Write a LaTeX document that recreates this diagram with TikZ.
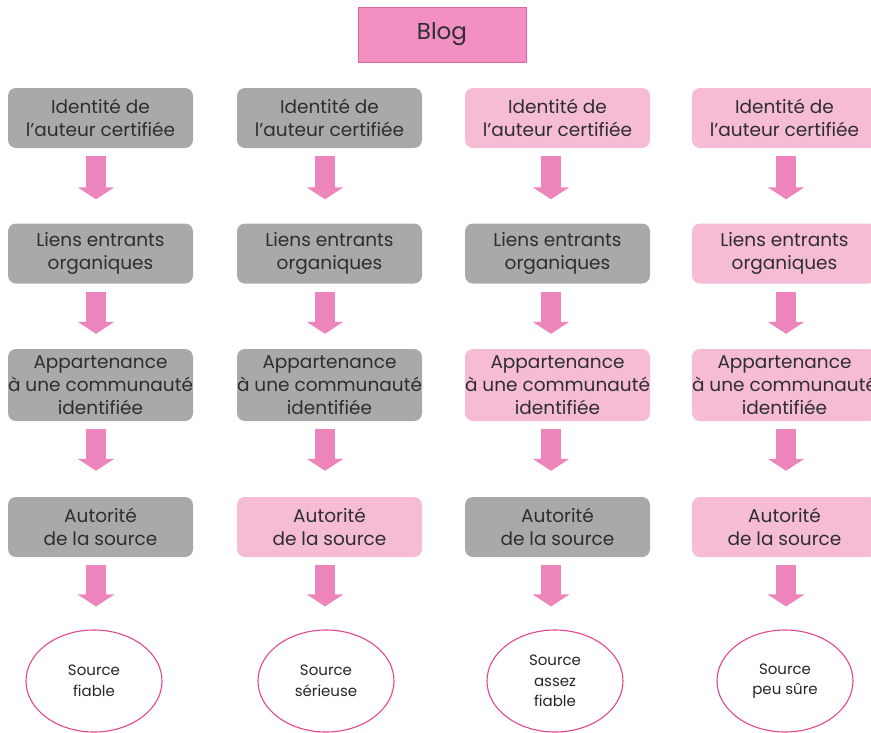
\documentclass[tikz,border=0pt]{standalone}
\usepackage{fontspec}
\setmainfont{Poppins}
\usetikzlibrary{arrows.meta,shapes.geometric}
\definecolor{boxgray}{HTML}{A8AAAA}
\definecolor{boxpink}{HTML}{F6BCD6}
\definecolor{blogpink}{HTML}{F290C4}
\definecolor{blogedge}{HTML}{D8669F}
\definecolor{arrowpink}{HTML}{EE84BC}
\definecolor{elledge}{HTML}{E0478F}
\definecolor{txt}{HTML}{2E2E2E}
\tikzset{
  base/.style={rounded corners=8pt, minimum width=185pt, align=center, text=txt,
    font=\fontsize{18.5}{23}\selectfont, inner sep=0pt},
  graybox/.style={base, fill=boxgray},
  pinkbox/.style={base, fill=boxpink},
  tall/.style={minimum height=72pt},
  short/.style={minimum height=60pt},
  fat/.style={draw=arrowpink, line width=20pt, -{Triangle[width=36pt,length=12pt]}, shorten <=8pt},
  outcome/.style={ellipse, draw=elledge, line width=1.1pt, minimum width=136pt, minimum height=102pt,
    align=center, inner sep=0pt, font=\fontsize{15}{20.5}\selectfont, text=black!85},
}
\begin{document}
\begin{tikzpicture}[x=1pt,y=-1pt]
\useasboundingbox (0,0) rectangle (871,732);
\node[fill=blogpink, draw=blogedge, line width=1pt, minimum width=168pt, minimum height=55pt,
  font=\fontsize{23}{27}\selectfont, text=txt] (blog) at (442,34.5) {Blog};
% column x for arrows and ellipses
\coordinate (x1) at (96,0);
\coordinate (x2) at (325,0);
\coordinate (x3) at (551,0);
\coordinate (x4) at (786,0);
% row 1
\node[graybox,short] (a1) at (100.5,118) {Identité de\\l’auteur certifiée};
\node[graybox,short] (a2) at (329.5,118) {Identité de\\l’auteur certifiée};
\node[pinkbox,short] (a3) at (557.5,118) {Identité de\\l’auteur certifiée};
\node[pinkbox,short] (a4) at (784.5,118) {Identité de\\l’auteur certifiée};
% row 2
\node[graybox,short] (b1) at (100.5,253.5) {Liens entrants\\organiques};
\node[graybox,short] (b2) at (329.5,253.5) {Liens entrants\\organiques};
\node[graybox,short] (b3) at (557.5,253.5) {Liens entrants\\organiques};
\node[pinkbox,short] (b4) at (784.5,253.5) {Liens entrants\\organiques};
% row 3
\node[graybox,tall] (c1) at (100.5,385) {Appartenance\\à une communauté\\identifiée};
\node[graybox,tall] (c2) at (329.5,385) {Appartenance\\à une communauté\\identifiée};
\node[pinkbox,tall] (c3) at (557.5,385) {Appartenance\\à une communauté\\identifiée};
\node[pinkbox,tall] (c4) at (784.5,385) {Appartenance\\à une communauté\\identifiée};
% row 4
\node[graybox,short] (d1) at (100.5,527) {Autorité\\de la source};
\node[pinkbox,short] (d2) at (329.5,527) {Autorité\\de la source};
\node[graybox,short] (d3) at (557.5,527) {Autorité\\de la source};
\node[pinkbox,short] (d4) at (784.5,527) {Autorité\\de la source};
% outcomes
\node[outcome] (e1) at (94,681) {Source\\fiable};
\node[outcome] (e2) at (326,681) {Source\\sérieuse};
\node[outcome] (e3) at (555,681) {Source\\assez\\fiable};
\node[outcome] (e4) at (785,681) {Source\\peu sûre};
% arrows
\foreach \i in {1,2,3,4}{
  \draw[fat, shorten >=24pt] (a\i.south -| x\i) -- (b\i.north -| x\i);
  \draw[fat, shorten >=15pt] (b\i.south -| x\i) -- (c\i.north -| x\i);
  \draw[fat, shorten >=26pt] (c\i.south -| x\i) -- (d\i.north -| x\i);
  \draw[fat, shorten >=23pt] (d\i.south -| x\i) -- (e\i.north -| x\i);
}
\end{tikzpicture}
\end{document}
